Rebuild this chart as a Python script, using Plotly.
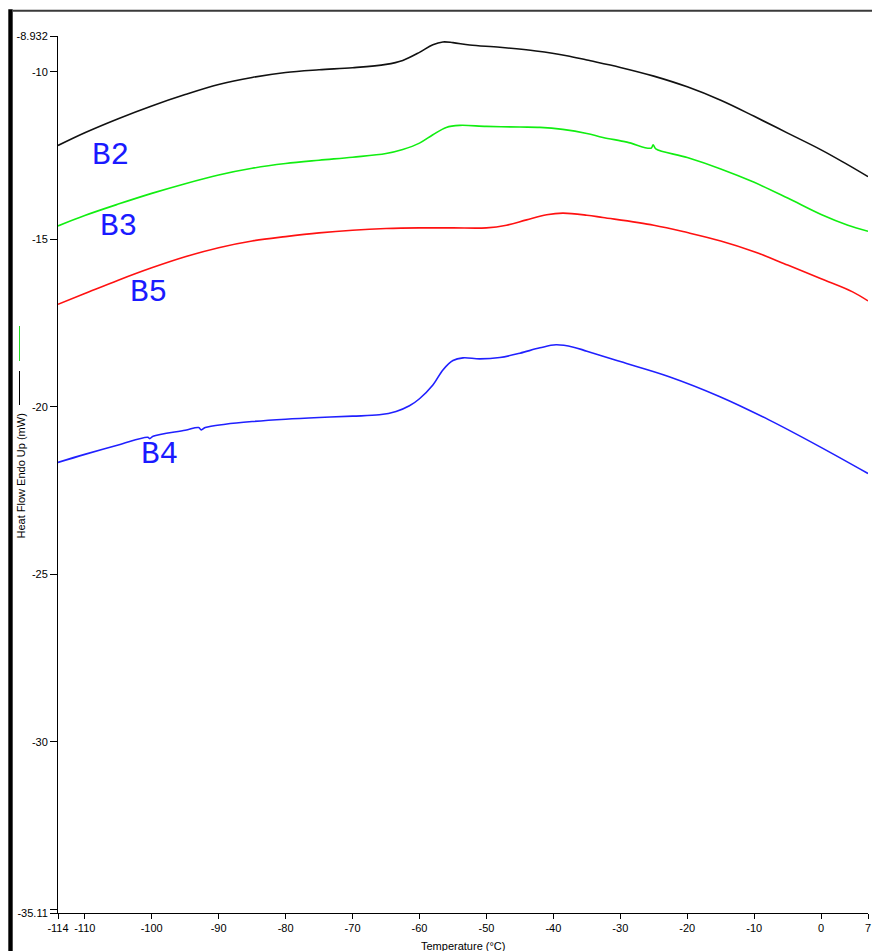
import plotly.graph_objects as go

# DSC heat-flow traces, temperature in °C, heat flow in mW
b2_temp = [-114, -110, -105, -100, -95, -90, -85, -80, -75, -70, -65, -62.5, -60, -58, -56.5,
           -55, -52.5, -48, -42.6, -38, -35, -30, -25, -20, -15, -10, -5, 0, 3.5, 7]
b2_flow = [-12.20, -11.82, -11.40, -11.02, -10.68, -10.38, -10.17, -10.02, -9.94, -9.88, -9.78,
           -9.66, -9.42, -9.19, -9.11, -9.13, -9.20, -9.27, -9.38, -9.52, -9.65, -9.87, -10.13,
           -10.45, -10.85, -11.33, -11.83, -12.33, -12.72, -13.13]

b3_temp = [-114, -110, -105, -100, -95, -90, -85, -80, -75, -70, -65, -62.5, -60, -58, -56, -54,
           -50, -45, -42, -38.6, -35, -32.6, -29, -25.4, -25.1, -24.7, -20, -15, -10, -5, 0, 4, 7]
b3_flow = [-14.60, -14.29, -13.95, -13.63, -13.34, -13.08, -12.88, -12.74, -12.64, -12.55, -12.44,
           -12.32, -12.13, -11.88, -11.66, -11.60, -11.63, -11.65, -11.66, -11.72, -11.84, -11.96,
           -12.10, -12.28, -12.18, -12.30, -12.56, -12.90, -13.30, -13.77, -14.26, -14.58, -14.76]

b5_temp = [-114, -110, -105, -100, -95, -90, -85, -80, -75, -70, -65, -60, -55, -50, -47, -44,
           -41, -38.6, -35, -32.6, -25, -20, -15, -10, -5, 0, 4.7, 7]
b5_flow = [-16.94, -16.62, -16.22, -15.85, -15.52, -15.25, -15.05, -14.92, -14.81, -14.73, -14.68,
           -14.66, -14.66, -14.66, -14.58, -14.42, -14.27, -14.22, -14.28, -14.35, -14.58, -14.80,
           -15.05, -15.37, -15.77, -16.18, -16.57, -16.84]

b4_temp = [-114, -110, -105, -100.6, -100.3, -99.8, -95, -93, -92.6, -92.0, -89, -85, -80, -75,
           -70, -66, -63.5, -61.5, -60, -58, -56.5, -55, -53.5, -51, -48, -45, -42, -39.6, -37,
           -35, -30, -22.7, -15.2, -7.8, -0.3, 7]
b4_flow = [-21.66, -21.42, -21.14, -20.91, -20.95, -20.88, -20.70, -20.62, -20.69, -20.62, -20.52,
           -20.44, -20.37, -20.32, -20.28, -20.24, -20.14, -19.97, -19.76, -19.35, -18.90, -18.62,
           -18.54, -18.57, -18.53, -18.40, -18.24, -18.15, -18.22, -18.34, -18.65, -19.10, -19.69,
           -20.39, -21.18, -21.99]

x_ticks = [-114, -110, -100, -90, -80, -70, -60, -50, -40, -30, -20, -10, 0, 7]
x_tick_text = ["-114", "-110", "-100", "-90", "-80", "-70", "-60", "-50", "-40", "-30", "-20",
               "-10", "0", "7"]
y_ticks = [-8.932, -10, -15, -20, -25, -30, -35, -35.11]
y_tick_text = ["-8.932", "-10", "-15", "-20", "-25", "-30", "", "-35.11"]

sample_names = ["B2", "B3", "B5", "B4"]
label_x = [-106.2, -104.9, -100.45, -98.84]
label_y = [-12.50, -14.62, -16.60, -21.43]

W, H = 872, 951
L, R, T, B = 58, 4, 36, 38
X_MIN, X_MAX = -114, 7
Y_MIN, Y_MAX = -35.11, -8.932


def px_x(px):
    return (px - L) / (W - L - R)


def px_y(py):
    return (H - B - py) / (H - T - B)


fig = go.Figure()
for t, f, col in [(b2_temp, b2_flow, "#111111"), (b3_temp, b3_flow, "#11ee11"),
                  (b5_temp, b5_flow, "#ff1111"), (b4_temp, b4_flow, "#2020ff")]:
    fig.add_trace(go.Scatter(x=t, y=f, mode="lines",
                             line=dict(color=col, width=1.6, shape="spline", smoothing=1.0),
                             showlegend=False, hoverinfo="skip"))

annotations = []
for name, lx, ly in zip(sample_names, label_x, label_y):
    annotations.append(dict(x=lx, y=ly, xref="x", yref="y", text=name, showarrow=False,
                            xanchor="center", yanchor="middle",
                            font=dict(family="Courier New, Liberation Mono, monospace",
                                      size=31, color="#1a1aff")))

annotations.append(dict(x=0.5, y=px_y(946), xref="paper", yref="paper",
                        text="Temperature (°C)", showarrow=False,
                        xanchor="center", yanchor="middle",
                        font=dict(family="Liberation Sans, Arial", size=11, color="black")))
annotations.append(dict(x=px_x(20), y=px_y(476.5), xref="paper", yref="paper",
                        text="Heat Flow Endo Up (mW)", showarrow=False, textangle=-90,
                        xanchor="center", yanchor="middle",
                        font=dict(family="Liberation Sans, Arial", size=11, color="black")))

shapes = [
    # heavy frame bar on the left edge
    dict(type="rect", xref="paper", yref="paper", x0=px_x(8.3), x1=px_x(12.7),
         y0=px_y(951), y1=px_y(9.3), fillcolor="black", line=dict(width=0), layer="above"),
    # frame line along the top
    dict(type="line", xref="paper", yref="paper", x0=px_x(12.7), x1=px_x(872),
         y0=px_y(10.8), y1=px_y(10.8), line=dict(color="#3a3a3a", width=2)),
    # series key strokes beside the y-axis title
    dict(type="line", xref="paper", yref="paper", x0=px_x(19.5), x1=px_x(19.5),
         y0=px_y(326), y1=px_y(361), line=dict(color="#22dd22", width=1)),
    dict(type="line", xref="paper", yref="paper", x0=px_x(19.5), x1=px_x(19.5),
         y0=px_y(371), y1=px_y(405), line=dict(color="black", width=1)),
]

axis_font = dict(family="Liberation Sans, Arial", size=11, color="black")
fig.update_layout(
    width=W, height=H,
    margin=dict(l=L, r=R, t=T, b=B, pad=0),
    paper_bgcolor="white", plot_bgcolor="white",
    xaxis=dict(range=[X_MIN, X_MAX], tickvals=x_ticks, ticktext=x_tick_text,
               showgrid=False, zeroline=False, showline=True, linecolor="black", linewidth=1,
               ticks="outside", ticklen=5, tickcolor="black", tickfont=axis_font,
               automargin=False, fixedrange=True),
    yaxis=dict(range=[Y_MIN, Y_MAX], tickvals=y_ticks, ticktext=y_tick_text,
               showgrid=False, zeroline=False, showline=True, linecolor="black", linewidth=1,
               ticks="outside", ticklen=7, tickcolor="black", tickfont=axis_font,
               automargin=False, fixedrange=True),
    annotations=annotations,
    shapes=shapes,
)

fig.write_html("out.html")
